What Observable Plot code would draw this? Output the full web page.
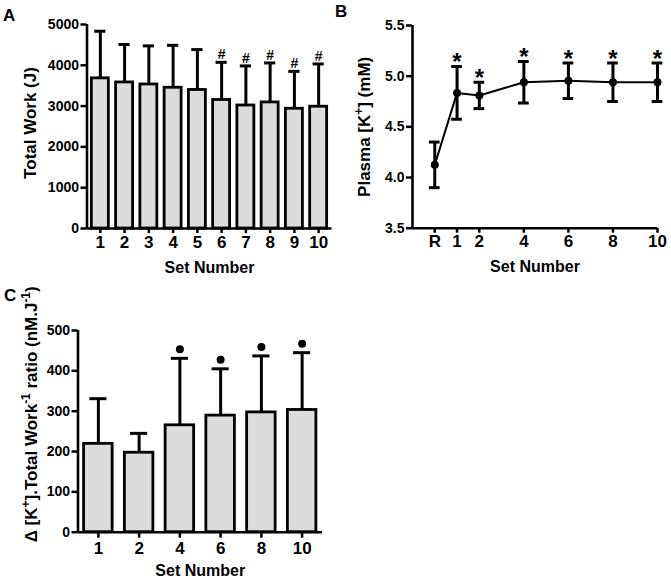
<!DOCTYPE html>
<html>
<head>
<meta charset="utf-8">
<script src="https://cdn.jsdelivr.net/npm/d3@7"></script>
<script src="https://cdn.jsdelivr.net/npm/@observablehq/plot@0.6"></script>
<style>
  html, body { margin: 0; padding: 0; background: #ffffff; }
  #page { position: relative; width: 671px; height: 580px; background: #ffffff; overflow: hidden;
          font-family: "Liberation Sans", Arial, Helvetica, sans-serif; }
  .panel { position: absolute; }
  .letter { position: absolute; font-size: 17px; font-weight: bold; line-height: 17px; color: #000; }
  svg { overflow: visible; }
</style>
</head>
<body>
<div id="page">
  <div class="letter" style="left:3px; top:7px;">A</div>
  <div class="letter" style="left:335px; top:3px;">B</div>
  <div class="letter" style="left:4px; top:287px;">C</div>
  <div class="panel" id="pa" style="left:0px; top:0px;"></div>
  <div class="panel" id="pb" style="left:335px; top:0px;"></div>
  <div class="panel" id="pc" style="left:0px; top:280px;"></div>
</div>
<script>
// ---------- Panel A: Total Work per set ----------
const workSets = [1, 2, 3, 4, 5, 6, 7, 8, 9, 10];
const workMean = [3680, 3580, 3530, 3450, 3395, 3150, 3015, 3090, 2935, 2985];
const workSD   = [1155, 930, 946, 1040, 990, 923, 970, 968, 916, 1048];
const workSig  = ["", "", "", "", "", "#", "#", "#", "#", "#"];
const workTicks = [0, 1000, 2000, 3000, 4000, 5000];

// ---------- Panel B: Plasma [K+] ----------
const kSets   = [0, 1, 2, 4, 6, 8, 10];
const kLabels = ["R", "1", "2", "4", "6", "8", "10"];
const kMean   = [4.125, 4.835, 4.81, 4.94, 4.955, 4.94, 4.94];
const kSD     = [0.225, 0.26, 0.13, 0.205, 0.175, 0.19, 0.19];
const kSig    = ["", "*", "*", "*", "*", "*", "*"];
const kTicks  = [3.5, 4.0, 4.5, 5.0, 5.5];

// ---------- Panel C: delta K+ / Total Work ratio ----------
const ratioSets = ["1", "2", "4", "6", "8", "10"];
const ratioMean = [219, 197, 265, 289, 297, 303];
const ratioSD   = [112, 48, 166, 116, 140, 142];
const ratioSig  = [false, false, true, true, true, true];
const ratioTicks = [0, 100, 200, 300, 400, 500];

const BAR = "#dcdcdc";
const FONT = "'Liberation Sans', Arial, Helvetica, sans-serif";
const baseStyle = {fontFamily: FONT, fontWeight: "bold", fontSize: "14px", background: "transparent", overflow: "visible", color: "black"};

function superscripts(svg) {
  d3.select(svg).selectAll("text").each(function() {
    const t = this.textContent;
    if (!t || !t.includes("^{")) return;
    const sel = d3.select(this);
    sel.text(null);
    const parts = t.split(/(\^\{[^}]*\})/);
    let raised = false;
    parts.forEach(p => {
      if (!p) return;
      const m = p.match(/^\^\{(.*)\}$/);
      if (m) {
        sel.append("tspan").attr("font-size", "70%").attr("dy", "-0.6em").text(m[1]);
        raised = true;
      } else {
        const ts = sel.append("tspan").text(p);
        if (raised) { ts.attr("dy", "0.42em"); raised = false; }
      }
    });
  });
  return svg;
}

// Panel A
const workData = workSets.map((s, i) => ({set: s, mean: workMean[i], top: workMean[i] + workSD[i], sig: workSig[i]}));
const xA = [0.45, 10.55];
const chartA = Plot.plot({
  width: 335, height: 280,
  marginLeft: 86.5, marginRight: 3.5, marginTop: 24, marginBottom: 52,
  x: {domain: xA}, y: {domain: [0, 5000]},
  style: baseStyle,
  marks: [
    Plot.rect(workData, {x1: d => d.set - 0.35, x2: d => d.set + 0.35, y1: 0, y2: "mean", fill: BAR, stroke: "black", strokeWidth: 2.8}),
    Plot.ruleX(workData, {x: "set", y1: "mean", y2: "top", stroke: "black", strokeWidth: 3}),
    Plot.ruleY(workData, {x1: d => d.set - 0.23, x2: d => d.set + 0.23, y: "top", stroke: "black", strokeWidth: 3}),
    Plot.text(workData.filter(d => d.sig), {x: "set", y: "top", text: "sig", dy: -7.5, fontSize: 14, fontWeight: "bold", lineAnchor: "middle"}),
    Plot.ruleY([0], {stroke: "black", strokeWidth: 2.6}),
    Plot.ruleX([xA[0]], {stroke: "black", strokeWidth: 2.6}),
    Plot.axisY({ticks: workTicks, tickFormat: d => String(d), tickSize: 6, tickPadding: 2, strokeWidth: 2.5, fontSize: 14, label: null}),
    Plot.axisX({ticks: workSets, tickFormat: d => String(d), tickSize: 5, tickPadding: 2, strokeWidth: 2.5, fontSize: 17, label: null}),
    Plot.text(["Set Number"], {text: d => d, frameAnchor: "bottom", textAnchor: "middle", dy: 39, fontSize: 16, lineAnchor: "middle"}),
    Plot.text(["Total Work (J)"], {text: d => d, frameAnchor: "left", textAnchor: "middle", rotate: -90, dx: -56.5, dy: -3.5, fontSize: 17, lineAnchor: "middle"})
  ]
});
document.getElementById("pa").appendChild(chartA);

// Panel B
const kData = kSets.map((s, i) => ({set: s, mean: kMean[i], lo: kMean[i] - kSD[i], hi: kMean[i] + kSD[i], sig: kSig[i]}));
const xB = [-1, 10];
const chartB = Plot.plot({
  width: 336, height: 280,
  marginLeft: 77, marginRight: 14, marginTop: 25, marginBottom: 52.3,
  x: {domain: xB}, y: {domain: [3.5, 5.5]},
  style: baseStyle,
  marks: [
    Plot.ruleY([kTicks[0]], {stroke: "black", strokeWidth: 2.6}),
    Plot.ruleX([xB[0]], {stroke: "black", strokeWidth: 2.6}),
    Plot.line(kData, {x: "set", y: "mean", stroke: "black", strokeWidth: 2}),
    Plot.ruleX(kData, {x: "set", y1: "lo", y2: "hi", stroke: "black", strokeWidth: 3}),
    Plot.ruleY(kData, {x1: d => d.set - 0.24, x2: d => d.set + 0.24, y: "hi", stroke: "black", strokeWidth: 3}),
    Plot.ruleY(kData, {x1: d => d.set - 0.24, x2: d => d.set + 0.24, y: "lo", stroke: "black", strokeWidth: 3}),
    Plot.dot(kData, {x: "set", y: "mean", r: 4, fill: "black", stroke: "none"}),
    Plot.text(kData.filter(d => d.sig), {x: "set", y: "hi", text: "sig", dy: -4, fontSize: 24, lineAnchor: "middle"}),
    Plot.axisY({ticks: kTicks, tickFormat: d3.format(".1f"), tickSize: 6, tickPadding: 2, strokeWidth: 2.5, fontSize: 14, label: null}),
    Plot.axisX({ticks: kSets, tickFormat: d => kLabels[kSets.indexOf(d)], tickSize: 5, tickPadding: 2, strokeWidth: 2.5, fontSize: 17, label: null}),
    Plot.text(["Set Number"], {text: d => d, frameAnchor: "bottom", textAnchor: "middle", dy: 39, fontSize: 16, lineAnchor: "middle"}),
    Plot.text(["Plasma [K^{+}] (mM)"], {text: d => d, frameAnchor: "left", textAnchor: "middle", rotate: -90, dx: -47.5, dy: 0, fontSize: 17, lineAnchor: "middle"})
  ]
});
document.getElementById("pb").appendChild(superscripts(chartB));

// Panel C
const ratioData = ratioSets.map((s, i) => ({i, set: s, mean: ratioMean[i], top: ratioMean[i] + ratioSD[i], sig: ratioSig[i]}));
const xC = [-0.5, ratioSets.length - 0.5];
const chartC = Plot.plot({
  width: 335, height: 300,
  marginLeft: 77.5, marginRight: 13, marginTop: 50, marginBottom: 48.3,
  x: {domain: xC}, y: {domain: [0, 500]},
  style: baseStyle,
  marks: [
    Plot.rect(ratioData, {x1: d => d.i - 0.35, x2: d => d.i + 0.35, y1: 0, y2: "mean", fill: BAR, stroke: "black", strokeWidth: 2.8}),
    Plot.ruleX(ratioData, {x: "i", y1: "mean", y2: "top", stroke: "black", strokeWidth: 3}),
    Plot.ruleY(ratioData, {x1: d => d.i - 0.21, x2: d => d.i + 0.21, y: "top", stroke: "black", strokeWidth: 3}),
    Plot.dot(ratioData.filter(d => d.sig), {x: "i", y: "top", dy: -9, r: 4, fill: "black", stroke: "none"}),
    Plot.ruleY([0], {stroke: "black", strokeWidth: 2.6}),
    Plot.ruleX([xC[0]], {stroke: "black", strokeWidth: 2.6}),
    Plot.axisY({ticks: ratioTicks, tickFormat: d => String(d), tickSize: 6, tickPadding: 2, strokeWidth: 2.5, fontSize: 14, label: null}),
    Plot.axisX({ticks: ratioSets.map((s, i) => i), tickFormat: i => ratioSets[i], tickSize: 6, tickPadding: 4, strokeWidth: 2.5, fontSize: 17, label: null}),
    Plot.text(["Set Number"], {text: d => d, frameAnchor: "bottom", textAnchor: "middle", dy: 38.5, fontSize: 16, lineAnchor: "middle"}),
    Plot.text(["\u0394 [K^{+}].Total Work^{-1} ratio (nM.J^{-1})"], {text: d => d, frameAnchor: "left", textAnchor: "middle", rotate: -90, dx: -46.5, dy: -17, fontSize: 17, lineAnchor: "middle"})
  ]
});
document.getElementById("pc").appendChild(superscripts(chartC));
</script>
</body>
</html>
